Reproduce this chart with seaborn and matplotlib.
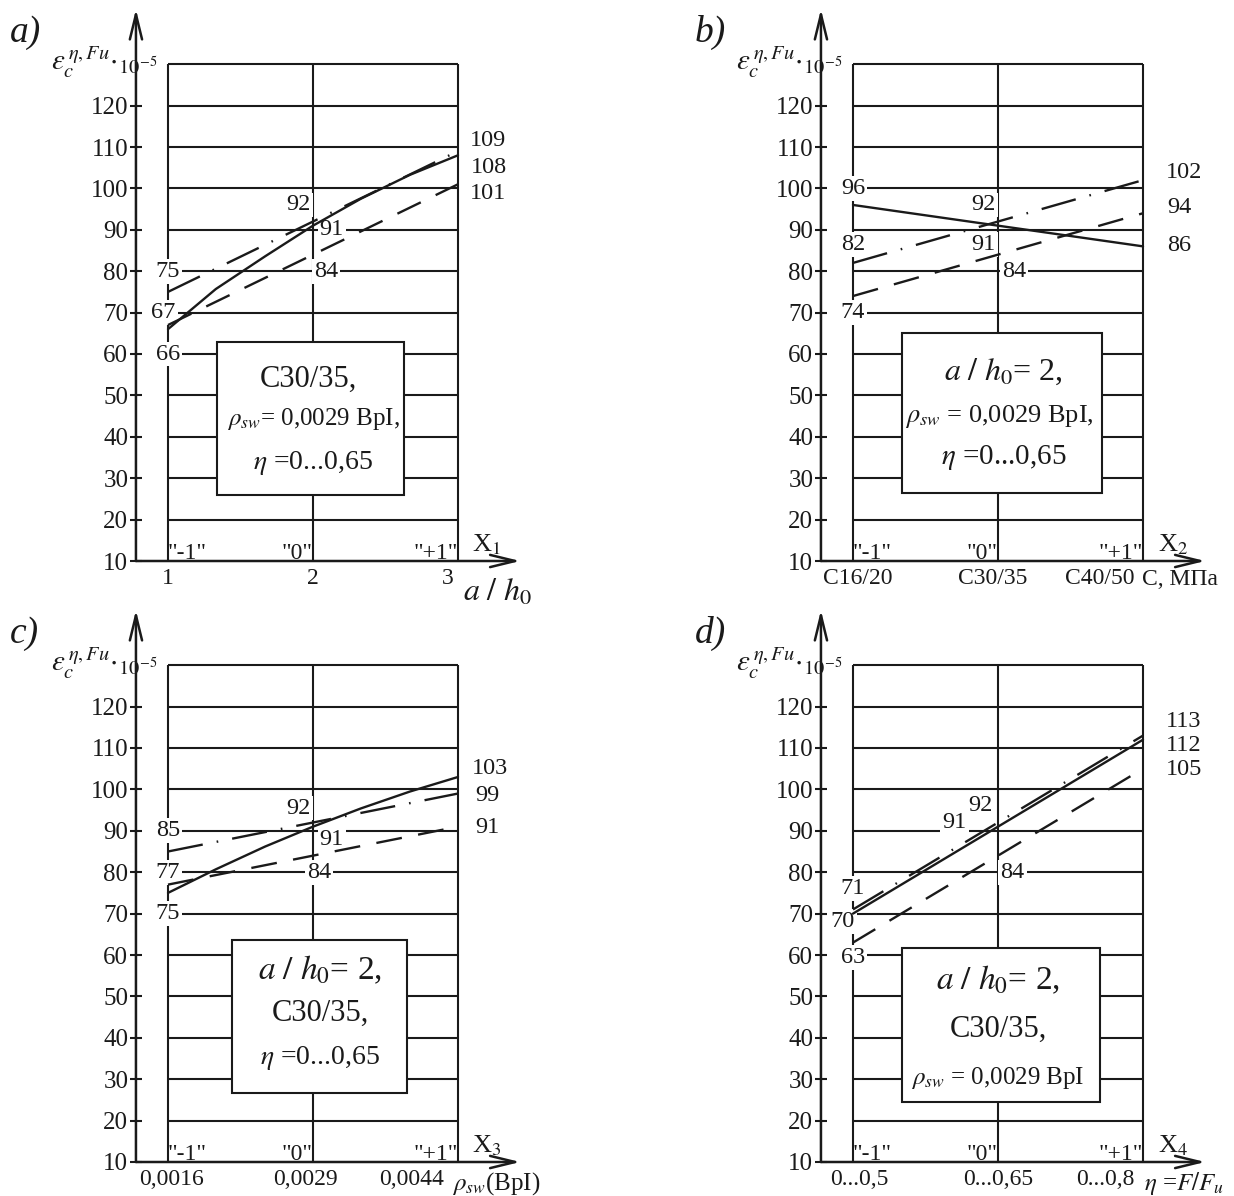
import matplotlib
matplotlib.use("Agg")
import matplotlib.pyplot as plt
import matplotlib.transforms as mtransforms
from matplotlib.patches import Rectangle
import seaborn as sns
import pandas as pd

# coded factor levels (-1, 0, +1) and points
levels = [-1, 0, 1]
curve_x = [-1, -0.67, -0.33, 0, 0.33, 0.67, 1]

# a) a/h0
a_ticks = ["1", "2", "3"]
a_solid = [66, 75.7, 83.6, 91, 97.5, 103.3, 108]
a_dashed = [67, 84, 101]
a_dashdot = [75, 92, 109]

# b) concrete class
b_ticks = ["C16/20", "C30/35", "C40/50"]
b_solid = [96, 91, 86]
b_dashed = [74, 84, 94]
b_dashdot = [82, 92, 102]

# c) rho_sw
c_ticks = ["0,0016", "0,0029", "0,0044"]
c_solid = [75, 80.7, 86.2, 91, 95.4, 99.5, 103]
c_dashed = [77, 84, 91]
c_dashdot = [85, 92, 99]

# d) eta
d_ticks = ["0...0,5", "0...0,65", "0...0,8"]
d_solid = [70, 91, 112]
d_dashed = [63, 84, 105]
d_dashdot = [71, 92, 113]

y_ticks = list(range(10, 121, 10))

sns.set_theme(style="white", rc={"text.color": "k", "axes.labelcolor": "k",
                                 "xtick.color": "k", "ytick.color": "k"})
plt.rcParams["font.family"] = ["Liberation Serif", "DejaVu Serif"]
plt.rcParams["mathtext.fontset"] = "stix"

W, H = 1234, 1196
XL, XR, YB, YT = -1.221, 1.45, 10, 143.5
PX, PY = 145.0, 4.14  # pixels per data unit

panels = [
    dict(letter="a)", origin=(0, 0), ticks=a_ticks, tick_dx=[0, 0, -10], factor=r"X$_1$",
         xname=r"$a\ /\ h_0$", xname_pos=(1.27, 2.3), xname_ha="center", xname_size=23,
         solid=(curve_x, a_solid), dashed=(levels, a_dashed), dashdot=(levels, a_dashdot),
         labels=[("75", -1.0, 80), ("67", -1.03, 70), ("66", -1.0, 60), ("92", -0.10, 96),
                 ("91", 0.13, 90), ("84", 0.09, 80), ("109", 1.21, 111.5), ("108", 1.21, 105),
                 ("101", 1.21, 98.8)],
         box=(-0.66, 25.9, 1.29, 37.0),
         box_text=[("C30/35,", -0.03, 54, 22), (r"$\rho_{sw}$= 0,0029 BpI,", 0, 44.3, 18),
                   (r"$\eta$ =0...0,65", 0, 33.7, 20)]),
    dict(letter="b)", origin=(685, 0), ticks=b_ticks, tick_dx=[5, -5, -43], factor=r"X$_2$",
         xname="C, МПа", xname_pos=(0.99, 8.1), xname_ha="left", xname_size=17,
         solid=(levels, b_solid), dashed=(levels, b_dashed), dashdot=(levels, b_dashdot),
         labels=[("96", -1.0, 100), ("82", -1.0, 86.5), ("74", -1.0, 70), ("92", -0.1, 96),
                 ("91", -0.1, 86.5), ("84", 0.11, 80), ("102", 1.28, 103.8), ("94", 1.25, 95.4),
                 ("86", 1.25, 86.2)],
         box=(-0.66, 26.5, 1.38, 38.6),
         box_text=[(r"$a\ /\ h_0$= 2,", 0.04, 55.7, 23), (r"$\rho_{sw}$ = 0,0029 BpI,", 0.01, 44.9, 19),
                   (r"$\eta$ =0...0,65", 0.04, 34.9, 21)]),
    dict(letter="c)", origin=(0, 601), ticks=c_ticks, tick_dx=[3, -8, -46], factor=r"X$_3$",
         xname=r"$\rho_{sw}$(BpI)", xname_pos=(0.96, 8.1), xname_ha="left", xname_size=18,
         solid=(curve_x, c_solid), dashed=(levels, c_dashed), dashdot=(levels, c_dashdot),
         labels=[("85", -1.0, 90), ("77", -1.0, 80), ("75", -1.0, 70), ("92", -0.1, 95.5),
                 ("91", 0.13, 88), ("84", 0.04, 80), ("103", 1.22, 105), ("99", 1.2, 98.5),
                 ("91", 1.2, 90.7)],
         box=(-0.56, 26.7, 1.21, 36.9),
         box_text=[(r"$a\ /\ h_0$= 2,", 0.05, 56.4, 24), ("C30/35,", 0.05, 46, 22),
                   (r"$\eta$ =0...0,65", 0.05, 35, 20)]),
    dict(letter="d)", origin=(685, 601), ticks=d_ticks, tick_dx=[6, 0, -38], factor=r"X$_4$",
         xname=r"$\eta$ =$F/F_u$", xname_pos=(1.01, 8.1), xname_ha="left", xname_size=18,
         solid=(levels, d_solid), dashed=(levels, d_dashed), dashdot=(levels, d_dashdot),
         labels=[("71", -1.0, 76), ("70", -1.07, 68), ("63", -1.0, 59.5), ("91", -0.3, 92),
                 ("92", -0.12, 96), ("84", 0.1, 80), ("113", 1.28, 116.3), ("112", 1.28, 110.5),
                 ("105", 1.28, 104.7)],
         box=(-0.66, 24.5, 1.36, 37.2),
         box_text=[(r"$a\ /\ h_0$= 2,", 0, 54, 24), ("C30/35,", 0, 42, 22),
                   (r"$\rho_{sw}$ = 0,0029 BpI", 0, 30.3, 18)]),
]

dash_map = {"solid": "", "dashed": (11, 7), "dashdot": (15, 6, 0.7, 6)}

fig = plt.figure(figsize=(W / 100, H / 100), dpi=100)

for p in panels:
    x0, y0 = p["origin"]
    left = x0 + 313 + PX * XL
    ax = fig.add_axes([left / W, 1 - (y0 + 561) / H, PX * (XR - XL) / W, PY * (YT - YB) / H])
    ax.set_xlim(XL, XR)
    ax.set_ylim(YB, YT)
    for s in ax.spines.values():
        s.set_visible(False)

    # grid of the design box
    ax.hlines(range(20, 131, 10), -1, 1, color="k", lw=1.5, zorder=1)
    ax.vlines(levels, 10, 130, color="k", lw=1.5, zorder=1)

    # axes with arrows
    arrow = dict(arrowstyle="->,head_length=0.9,head_width=0.22", color="k", lw=1.8,
                 mutation_scale=20, shrinkA=0, shrinkB=0)
    ax.annotate("", xy=(1.43, 10), xytext=(XL, 10), arrowprops=arrow, annotation_clip=False)
    ax.annotate("", xy=(XL, 143.3), xytext=(XL, 10), arrowprops=arrow, annotation_clip=False)

    rows = []
    for kind in ["solid", "dashed", "dashdot"]:
        xs, ys = p[kind]
        rows += [{"x": a, "y": b, "kind": kind} for a, b in zip(xs, ys)]
    df = pd.DataFrame(rows)
    sns.lineplot(data=df, x="x", y="y", style="kind", style_order=["solid", "dashed", "dashdot"],
                 dashes=dash_map, color="k", lw=1.7, estimator=None, sort=False,
                 legend=False, ax=ax, zorder=5)

    for txt, lx, ly in p["labels"]:
        ax.text(lx, ly, txt, ha="center", va="center", fontsize=17.5, zorder=3,
                bbox=dict(boxstyle="square,pad=0.08", fc="white", ec="none"))

    bx, by, bw, bh = p["box"]
    ax.add_patch(Rectangle((bx, by), bw, bh, fc="white", ec="k", lw=1.5, zorder=2))
    for txt, tx, ty, fs in p["box_text"]:
        ax.text(tx, ty, txt, ha="center", va="center", fontsize=fs, zorder=6)

    # ticks
    ax.set_yticks(y_ticks)
    ax.set_yticklabels([str(v) for v in y_ticks])
    ax.tick_params(axis="y", left=True, direction="inout", length=9, width=1.5,
                   labelsize=18, pad=1)
    ax.set_xticks(levels)
    ax.set_xticklabels(p["ticks"])
    ax.tick_params(axis="x", bottom=True, length=0, labelsize=17, pad=5)
    for lab, dx in zip(ax.get_xticklabels(), p["tick_dx"]):
        lab.set_transform(lab.get_transform() + mtransforms.ScaledTranslation(dx / 100, 0, fig.dpi_scale_trans))
    ax.set_xlabel("")
    ax.set_ylabel("")

    # coded levels and factor name
    ax.text(-1, 10.5, '"-1"', ha="left", va="baseline", fontsize=17)
    ax.text(0, 10.5, '"0"', ha="right", va="baseline", fontsize=17)
    ax.text(1, 10.5, '"+1"', ha="right", va="baseline", fontsize=17)
    ax.text(1.10, 12.2, p["factor"], ha="left", va="baseline", fontsize=19)
    ax.text(p["xname_pos"][0], p["xname_pos"][1], p["xname"], ha=p["xname_ha"],
            va="center" if p["xname_ha"] == "center" else "top", fontsize=p["xname_size"],
            style="italic" if p["xname_ha"] == "center" else "normal", clip_on=False)

    ax.text(-1.81, 128.5, r"$\varepsilon_c^{\,\eta,Fu}{\cdot}_{10^{-5}}$", ha="left",
            va="baseline", fontsize=21, clip_on=False)
    ax.text(-2.09, 135.5, p["letter"], ha="left", va="baseline", fontsize=27,
            style="italic", clip_on=False)

fig.savefig("out.png", dpi=100, facecolor="white")
